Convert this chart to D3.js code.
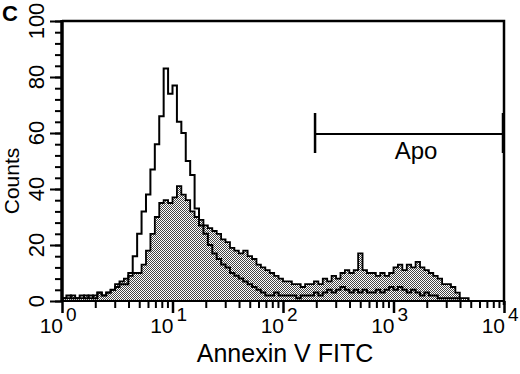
<!DOCTYPE html>
<html>
  <head>
    <meta charset="utf-8">
    <title>Annexin V FITC histogram</title>
    <style>
      body { margin: 0; background: #fff; }
      svg { display: block; font-family: "Liberation Sans", Arial, sans-serif; }
    </style>
  </head>
  <body>
    <svg width="520" height="374"></svg>
  </body>
  <script type="text/javascript" src="https://cdn.jsdelivr.net/npm/d3@7"></script>
  <script type="text/javascript">
    // 100 channels over 4 decades (25 per decade)
    var channelsPerDecade = 25;

    // open curve (control)
    var controlCounts = [
      1,2,1,1,2,1,2,1,3,2,
      3,4,5,6,6,10,16,24,32,38,
      47,56,66,83,74,77,64,60,50,45,
      33,27,24,20,17,15,13,12,10,9,
      8,7,6,5,4,3,2,2,3,2,
      2,2,2,1,2,2,2,3,2,3,
      4,3,4,5,4,3,4,3,4,3,
      3,4,3,4,5,4,5,4,3,4,
      3,2,3,2,2,1,1,1,1,1,
      0,0,0,0,0,0,0,0,0,0
    ];

    // shaded curve (Annexin V)
    var annexinCounts = [
      1,1,2,1,1,2,1,2,3,2,
      3,4,6,7,8,9,10,10,13,18,
      24,30,35,36,35,37,41,38,36,32,
      30,29,27,26,25,24,22,21,19,18,
      17,18,16,15,13,12,11,10,9,8,
      7,7,6,6,5,6,6,7,6,8,
      7,9,8,10,11,10,11,17,11,10,
      10,9,10,9,10,12,13,11,13,12,
      14,12,11,10,9,8,6,6,5,3,
      1,1,0,0,0,0,0,0,0,0
    ];

    var yMajorTicks = [0, 20, 40, 60, 80, 100];
    var xMajorTicks = [1, 10, 100, 1000, 10000];
    var xTickExponents = ["0", "1", "2", "3", "4"];
    var gateRange = [195, 10000];
    var gateLabel = "Apo";

    var svg = d3.select("svg");

    var x = d3.scaleLog().domain([1, 1e4]).range([62, 504]);
    var y = d3.scaleLinear().domain([0, 100]).range([301, 21]);

    // dotted fill
    var pat = svg.append("defs").append("pattern")
      .attr("id", "dots")
      .attr("width", 2).attr("height", 2)
      .attr("patternUnits", "userSpaceOnUse");
    pat.append("rect").attr("width", 2).attr("height", 2).attr("fill", "#fff");
    pat.append("rect").attr("x", 0).attr("y", 0).attr("width", 1).attr("height", 1).attr("fill", "#444");
    pat.append("rect").attr("x", 1).attr("y", 1).attr("width", 1).attr("height", 1).attr("fill", "#444");

    function toPoints(counts){
      var pts = counts.map(function(c, i){
        return [Math.pow(10, i / channelsPerDecade), c];
      });
      pts.push([Math.pow(10, counts.length / channelsPerDecade), counts[counts.length - 1]]);
      return pts;
    }

    var area = d3.area()
      .x(function(d){ return x(d[0]); })
      .y0(y(0))
      .y1(function(d){ return y(d[1]); })
      .curve(d3.curveStepAfter);

    var line = d3.line()
      .x(function(d){ return x(d[0]); })
      .y(function(d){ return y(d[1]); })
      .curve(d3.curveStepAfter);

    svg.append("path")
      .datum(toPoints(annexinCounts))
      .attr("d", area)
      .attr("fill", "url(#dots)");

    svg.append("path")
      .datum(toPoints(annexinCounts))
      .attr("d", line)
      .attr("fill", "none")
      .attr("stroke", "#000")
      .attr("stroke-width", 1.8);

    svg.append("path")
      .datum(toPoints(controlCounts))
      .attr("d", line)
      .attr("fill", "none")
      .attr("stroke", "#000")
      .attr("stroke-width", 2);

    // y axis (major + minor)
    var yMinor = d3.range(0, 101, 4);
    svg.append("g")
      .attr("transform", "translate(62,0)")
      .call(d3.axisLeft(y).tickValues(yMinor).tickSize(7).tickFormat(""))
      .call(function(g){ g.select(".domain").remove(); })
      .selectAll("line").attr("stroke-width", 2);
    svg.append("g")
      .attr("transform", "translate(62,0)")
      .call(d3.axisLeft(y).tickValues(yMajorTicks).tickSize(12).tickFormat(""))
      .call(function(g){ g.select(".domain").remove(); })
      .selectAll("line").attr("stroke-width", 2);

    svg.append("line")
      .attr("x1", 62).attr("x2", 62)
      .attr("y1", y(100) - 1).attr("y2", y(0) + 1)
      .attr("stroke", "#000").attr("stroke-width", 3.5);

    svg.selectAll("text.ylab")
      .data(yMajorTicks)
      .enter().append("text")
      .attr("class", "ylab")
      .attr("transform", function(d){ return "translate(44," + y(d) + ") rotate(-90)"; })
      .attr("text-anchor", "middle")
      .attr("font-size", 22)
      .text(function(d){ return d; });

    // x axis (major + minor log ticks)
    var xMinor = [];
    [1, 10, 100, 1000].forEach(function(dec){
      for (var k = 2; k <= 9; k++) xMinor.push(dec * k);
    });
    svg.append("g")
      .attr("transform", "translate(0," + y(0) + ")")
      .call(d3.axisBottom(x).tickValues(xMinor).tickSize(7).tickFormat(""))
      .call(function(g){ g.select(".domain").remove(); })
      .selectAll("line").attr("stroke-width", 2);
    svg.append("g")
      .attr("transform", "translate(0," + y(0) + ")")
      .call(d3.axisBottom(x).tickValues(xMajorTicks).tickSize(12).tickFormat(""))
      .call(function(g){ g.select(".domain").remove(); })
      .selectAll("line").attr("stroke-width", 2.5);

    svg.append("line")
      .attr("x1", 62).attr("x2", 504)
      .attr("y1", y(0)).attr("y2", y(0))
      .attr("stroke", "#000").attr("stroke-width", 2);

    var xl = svg.selectAll("g.xlab")
      .data(xMajorTicks)
      .enter().append("g")
      .attr("class", "xlab")
      .attr("transform", function(d){ return "translate(" + x(d) + ",0)"; });
    xl.append("text")
      .attr("x", 1).attr("y", 333)
      .attr("text-anchor", "end")
      .attr("font-size", 21)
      .text("10");
    xl.append("text")
      .attr("x", 4).attr("y", 321)
      .attr("font-size", 19)
      .text(function(d, i){ return xTickExponents[i]; });

    // frame top + right
    svg.append("path")
      .attr("d", "M" + 62 + "," + y(100) + "H" + 504 + "V" + (y(0) + 4))
      .attr("fill", "none")
      .attr("stroke", "#000")
      .attr("stroke-width", 2.5);

    // gate
    var gy = 134;
    svg.append("line")
      .attr("x1", x(gateRange[0])).attr("x2", x(gateRange[1]))
      .attr("y1", gy).attr("y2", gy)
      .attr("stroke", "#000").attr("stroke-width", 2);
    svg.append("line")
      .attr("x1", x(gateRange[0])).attr("x2", x(gateRange[0]))
      .attr("y1", gy - 21).attr("y2", gy + 19)
      .attr("stroke", "#000").attr("stroke-width", 2.5);
    svg.append("line")
      .attr("x1", x(gateRange[1]) - 1).attr("x2", x(gateRange[1]) - 1)
      .attr("y1", gy - 21).attr("y2", gy + 19)
      .attr("stroke", "#000").attr("stroke-width", 2.5);
    svg.append("text")
      .attr("x", 416).attr("y", 159)
      .attr("text-anchor", "middle")
      .attr("font-size", 24)
      .text(gateLabel);

    // titles
    svg.append("text")
      .attr("transform", "translate(19,181) rotate(-90)")
      .attr("text-anchor", "middle")
      .attr("font-size", 21)
      .text("Counts");

    svg.append("text")
      .attr("x", 285).attr("y", 362)
      .attr("text-anchor", "middle")
      .attr("font-size", 25)
      .text("Annexin V FITC");

    svg.append("text")
      .attr("x", 2).attr("y", 21)
      .attr("font-size", 22)
      .attr("font-weight", "bold")
      .text("C");
  </script>
</html>
